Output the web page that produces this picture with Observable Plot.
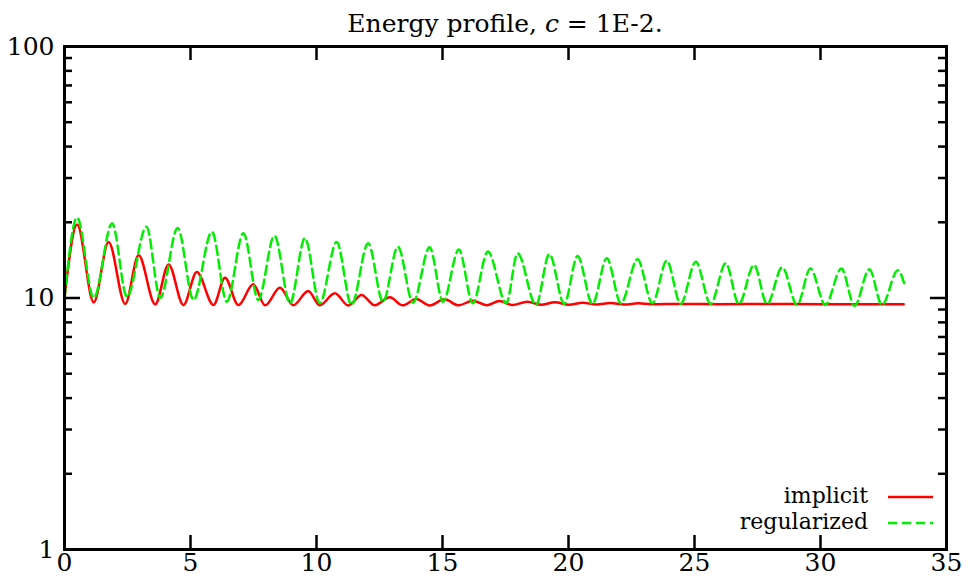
<!DOCTYPE html>
<html><head><meta charset="utf-8">
<script src="https://cdn.jsdelivr.net/npm/d3@7"></script>
<script src="https://cdn.jsdelivr.net/npm/@observablehq/plot@0.6"></script>
<style>
body{margin:0;background:#fff}
#chart svg text{font-family:"DejaVu Serif","Liberation Serif",serif !important;}
</style>
</head><body><div id="chart"></div>
<script>
const xTicks = [0, 5, 10, 15, 20, 25, 30, 35];
const yTicks = [1, 10, 100];
const yMinor = [2, 3, 4, 5, 6, 7, 8, 9, 20, 30, 40, 50, 60, 70, 80, 90];

const implicitX = [0, 0.50, 1.16, 1.75, 2.41, 2.94, 3.60, 4.13, 4.72, 5.25, 5.91, 6.37, 6.90, 7.49, 7.96, 8.55, 9.08, 9.67, 10.13, 10.73, 11.26, 11.79, 12.31, 12.91, 13.42, 13.96, 14.49, 15.08, 15.64, 16.20, 16.75, 17.26, 17.78, 18.36, 18.92, 19.46, 20.02, 20.56, 21.12, 21.66, 22.22, 22.76, 23.30, 24.5, 26.0, 28.0, 30.0, 33.3];
const implicitY = [10, 19.6, 9.61, 16.7, 9.47, 14.8, 9.44, 13.6, 9.38, 12.7, 9.38, 12.04, 9.37, 11.33, 9.35, 10.99, 9.36, 10.66, 9.36, 10.44, 9.34, 10.28, 9.36, 10.06, 9.35, 9.91, 9.34, 9.88, 9.35, 9.76, 9.36, 9.73, 9.38, 9.66, 9.40, 9.62, 9.41, 9.58, 9.42, 9.55, 9.43, 9.52, 9.44, 9.47, 9.45, 9.46, 9.45, 9.45];

const regularizedX = [0, 0.50, 1.16, 1.89, 2.48, 3.25, 3.80, 4.49, 5.12, 5.85, 6.44, 7.10, 7.69, 8.33, 8.95, 9.54, 10.13, 10.80, 11.39, 12.05, 12.64, 13.23, 13.83, 14.49, 15.02, 15.65, 16.20, 16.80, 17.53, 17.98, 18.71, 19.24, 19.83, 20.36, 20.95, 21.52, 22.08, 22.74, 23.33, 23.90, 24.45, 25.05, 25.64, 26.24, 26.76, 27.36, 27.88, 28.48, 29.07, 29.60, 30.19, 30.83, 31.35, 31.94, 32.44, 33.07, 33.36];
const regularizedY = [10, 20.9, 10.0, 19.8, 10.1, 19.2, 10.0, 19.0, 9.82, 18.35, 9.67, 18.1, 9.82, 17.7, 9.53, 17.3, 9.53, 16.7, 9.38, 16.5, 9.67, 16.0, 9.58, 15.9, 9.67, 15.6, 9.53, 15.3, 9.53, 15.05, 9.38, 14.96, 9.47, 14.7, 9.47, 14.38, 9.53, 14.25, 9.53, 14.07, 9.47, 13.94, 9.47, 13.74, 9.47, 13.53, 9.47, 13.25, 9.38, 13.1, 9.38, 13.1, 9.3, 13.0, 9.38, 12.9, 11.1];

const implicit = implicitX.map((x, i) => ({x, y: implicitY[i]}));
const regularized = regularizedX.map((x, i) => ({x, y: regularizedY[i]}));

const W = 968, H = 577, mL = 64, mR = 22, mT = 46, mB = 28;
const fw = W - mL - mR, fh = H - mT - mB;
const font = "'DejaVu Serif', 'Liberation Serif', serif";
const red = "#ff0000", green = "#00ee00";
const fs = 25, legendFs = 22;

const titleMark = () => {
  const t = d3.create("svg:text")
    .attr("x", (mL + W - mR) / 2).attr("y", 32)
    .attr("text-anchor", "middle").attr("font-size", fs).attr("fill", "black");
  t.append("tspan").text("Energy profile, ");
  t.append("tspan").attr("font-style", "italic").text("c");
  t.append("tspan").text(" = 1E-2.");
  return t.node();
};

const legendMark = () => {
  const g = d3.create("svg:g").attr("font-size", legendFs).attr("fill", "black");
  const right = W - mR, bottom = H - mB;
  const items = [
    {label: "implicit", color: red, dash: null, dy: 52},
    {label: "regularized", color: green, dash: "9,5", dy: 26}
  ];
  for (const it of items) {
    g.append("text").attr("x", right - 78).attr("y", bottom - it.dy + 6)
      .attr("text-anchor", "end").text(it.label);
    const l = g.append("line").attr("x1", right - 58).attr("x2", right - 13)
      .attr("y1", bottom - it.dy).attr("y2", bottom - it.dy)
      .attr("stroke", it.color).attr("stroke-width", 2.5);
    if (it.dash) l.attr("stroke-dasharray", it.dash);
  }
  return g.node();
};

const chart = Plot.plot({
  width: W, height: H,
  marginLeft: mL, marginRight: mR, marginTop: mT, marginBottom: mB,
  style: {fontFamily: font, fontSize: fs + "px", background: "white", color: "black", overflow: "visible"},
  x: {domain: [0, 35]},
  y: {type: "log", domain: [1, 100]},
  marks: [
    Plot.axisX({ticks: xTicks, tickSize: 0, tickPadding: 4, tickFormat: d => String(d), label: null}),
    Plot.axisY({ticks: yTicks, tickSize: 0, tickPadding: 10, tickFormat: d => String(d), label: null}),
    Plot.tickX(xTicks, {x: d => d, insetTop: fh - 14, stroke: "black", strokeWidth: 2.5}),
    Plot.tickX(xTicks, {x: d => d, insetBottom: fh - 14, stroke: "black", strokeWidth: 2.5}),
    Plot.tickY(yTicks, {y: d => d, insetRight: fw - 16, stroke: "black", strokeWidth: 2.5}),
    Plot.tickY(yTicks, {y: d => d, insetLeft: fw - 16, stroke: "black", strokeWidth: 2.5}),
    Plot.tickY(yMinor, {y: d => d, insetRight: fw - 8, stroke: "black", strokeWidth: 2.5}),
    Plot.tickY(yMinor, {y: d => d, insetLeft: fw - 8, stroke: "black", strokeWidth: 2.5}),
    Plot.line(implicit, {x: "x", y: "y", curve: "monotone-x", stroke: red, strokeWidth: 2.5}),
    Plot.line(regularized, {x: "x", y: "y", curve: "monotone-x", stroke: green, strokeWidth: 2.5, strokeDasharray: "9,5"}),
    Plot.frame({stroke: "black", strokeWidth: 3}),
    titleMark,
    legendMark
  ]
});
document.getElementById("chart").append(chart);
</script>
</body></html>
